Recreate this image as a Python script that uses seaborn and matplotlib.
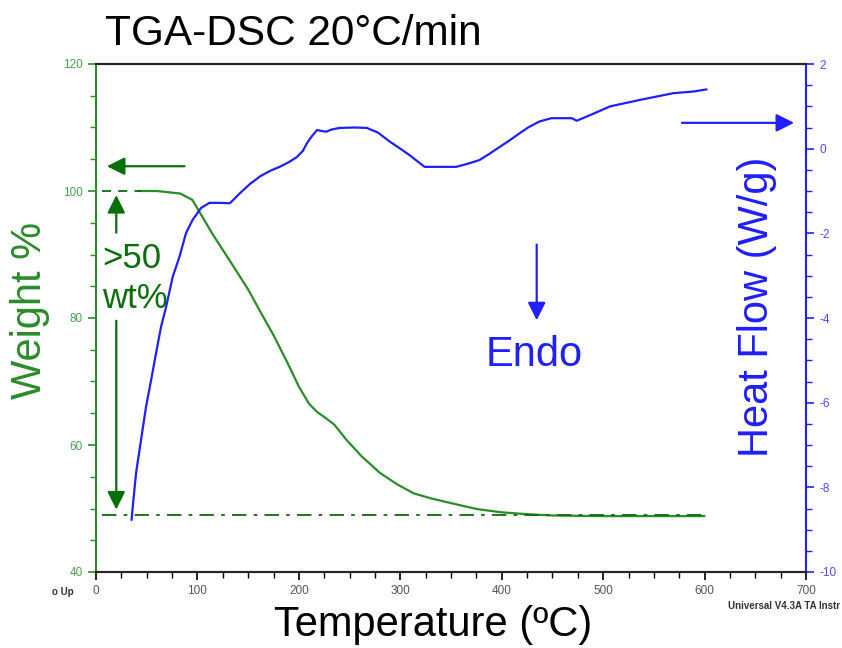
import numpy as np
import pandas as pd
import seaborn as sns
import matplotlib.pyplot as plt
from matplotlib.ticker import MultipleLocator

# TGA weight loss (left axis)
tga_temp = [42, 60, 83, 95, 102, 115, 132, 150, 162, 175, 188, 200, 210, 218, 226, 235,
            247, 262, 280, 297, 313, 330, 346, 362, 376, 400, 425, 450, 500, 550, 600]
tga_weight = [100.0, 100.0, 99.6, 98.6, 96.7, 93.2, 89.0, 84.5, 81.0, 77.3, 73.2, 69.2, 66.5, 65.2,
              64.3, 63.2, 60.8, 58.2, 55.6, 53.8, 52.4, 51.6, 51.0, 50.4, 49.9, 49.4, 49.1, 48.9,
              48.8, 48.8, 48.8]

# DSC heat flow (right axis)
dsc_temp = [35, 39.5, 44.4, 49.3, 54.3, 59.2, 64.1, 69.1, 75.6, 82.2, 88.8, 95.3, 103.6, 111.8,
            122, 132, 142, 152, 162, 172, 181, 190, 198, 204, 208, 213, 218, 222, 227, 232, 240,
            255, 267, 278, 290, 300, 309, 317, 324, 340, 355, 366, 378, 388, 398, 408, 418, 426,
            437, 449, 469, 474, 484, 507, 536, 569, 589, 602]
dsc_flow = [-8.77, -7.66, -6.88, -6.10, -5.47, -4.83, -4.21, -3.74, -3.03, -2.56, -1.99, -1.68,
            -1.40, -1.28, -1.28, -1.29, -1.05, -0.83, -0.65, -0.52, -0.43, -0.32, -0.2, -0.05,
            0.13, 0.3, 0.44, 0.42, 0.4, 0.45, 0.49, 0.5, 0.49, 0.38, 0.16, 0.0, -0.15, -0.3,
            -0.43, -0.43, -0.43, -0.36, -0.27, -0.12, 0.04, 0.2, 0.37, 0.5, 0.64, 0.72, 0.72,
            0.66, 0.76, 1.0, 1.15, 1.31, 1.35, 1.40]

green = "#2a8c2a"
dark_green = "#0a6e0a"
blue = "#1f1fff"

sns.set_theme(style="white")
plt.rcParams['font.family'] = ['Liberation Sans', 'DejaVu Sans']
plt.rcParams['axes.unicode_minus'] = False

tga = pd.DataFrame({'Temperature': tga_temp, 'Weight': tga_weight})
dsc = pd.DataFrame({'Temperature': dsc_temp, 'Heat Flow': dsc_flow})

fig = plt.figure(figsize=(8.42, 6.48), dpi=100)
ax = fig.add_axes([96 / 842, 1 - 572 / 648, (806 - 96) / 842, (572 - 64) / 648])
ax2 = ax.twinx()

sns.lineplot(data=tga, x='Temperature', y='Weight', ax=ax, color=green, linewidth=1.6)
sns.lineplot(data=dsc, x='Temperature', y='Heat Flow', ax=ax2, color=blue, linewidth=1.6)

ax.set_xlim(0, 700)
ax.set_ylim(40, 120)
ax2.set_ylim(-10, 2)

ax.xaxis.set_major_locator(MultipleLocator(100))
ax.xaxis.set_minor_locator(MultipleLocator(25))
ax.yaxis.set_major_locator(MultipleLocator(20))
ax.yaxis.set_minor_locator(MultipleLocator(5))
ax2.yaxis.set_major_locator(MultipleLocator(2))
ax2.yaxis.set_minor_locator(MultipleLocator(0.5))

ax.set_xlabel('')
ax.set_ylabel('')
ax2.set_ylabel('')

for a in (ax, ax2):
    for s in a.spines.values():
        s.set_linewidth(1.5)
ax.spines['left'].set_color(green)
ax.spines['bottom'].set_color('black')
ax.spines['top'].set_color('black')
ax2.spines['right'].set_color(blue)
ax2.spines['left'].set_visible(False)
ax.spines['right'].set_visible(False)

ax.tick_params(axis='x', which='both', direction='out', bottom=True, colors='black',
               labelcolor='#555555', labelsize=8.5)
ax.tick_params(axis='x', which='major', length=6, width=1.2)
ax.tick_params(axis='x', which='minor', length=4, width=1)
ax.tick_params(axis='y', which='both', direction='out', left=True, colors=green,
               labelcolor='#4f9f4f', labelsize=8.5)
ax.tick_params(axis='y', which='major', length=6, width=1.2)
ax.tick_params(axis='y', which='minor', length=4, width=1)
ax2.tick_params(axis='y', which='both', direction='out', right=True, colors=blue,
                labelcolor='#4a4aff', labelsize=8.5)
ax2.tick_params(axis='y', which='major', length=6, width=1.2)
ax2.tick_params(axis='y', which='minor', length=4, width=1)

# reference lines
ax.plot([6, 44], [100, 100], color=dark_green, linestyle=(0, (5, 4)), linewidth=1.3)
ax.plot([6, 600], [49, 49], color=dark_green, linestyle=(0, (8, 4, 2, 4)), linewidth=1.3)

# arrows
arrow_g = dict(arrowstyle='-|>,head_length=0.9,head_width=0.45', color=dark_green, lw=1.6)
ax.annotate('', xy=(8, 103.9), xytext=(90, 103.9), arrowprops=arrow_g)
ax.annotate('', xy=(20, 99.8), xytext=(20, 93), arrowprops=arrow_g)
ax.annotate('', xy=(20, 49.4), xytext=(20, 80), arrowprops=arrow_g)
arrow_b = dict(arrowstyle='-|>,head_length=0.9,head_width=0.45', color=blue, lw=1.6)
ax2.annotate('', xy=(691, 0.61), xytext=(575, 0.61), arrowprops=arrow_b)
ax.annotate('', xy=(434.5, 79.2), xytext=(434.5, 92), arrowprops=arrow_b)

ax.text(6, 89.4, '>50', color=dark_green, fontsize=25, ha='left', va='center')
ax.text(6, 83.1, 'wt%', color=dark_green, fontsize=25, ha='left', va='center')
ax.text(432, 74.2, 'Endo', color=blue, fontsize=30, ha='center', va='center')

fig.text(105 / 842, 1 - 45 / 648, 'TGA-DSC 20°C/min', fontsize=30.5, color='black',
         ha='left', va='baseline')
fig.text(30 / 842, 1 - 310 / 648, 'Weight %', fontsize=30, color=green, rotation=90,
         ha='center', va='center')
fig.text(757 / 842, 1 - 307 / 648, 'Heat Flow (W/g)', fontsize=30, color=blue, rotation=90,
         ha='center', va='center')
fig.text(433 / 842, 1 - 625 / 648, 'Temperature (ºC)', fontsize=30, color='black',
         ha='center', va='center')
fig.text(52 / 842, 1 - 592 / 648, 'o Up', fontsize=7, color='#333333', weight='bold',
         ha='left', va='center')
fig.text(840 / 842, 1 - 606 / 648, 'Universal V4.3A TA Instr', fontsize=7,
         color='#333333', weight='bold', ha='right', va='center')

fig.savefig('out.png', dpi=100)
